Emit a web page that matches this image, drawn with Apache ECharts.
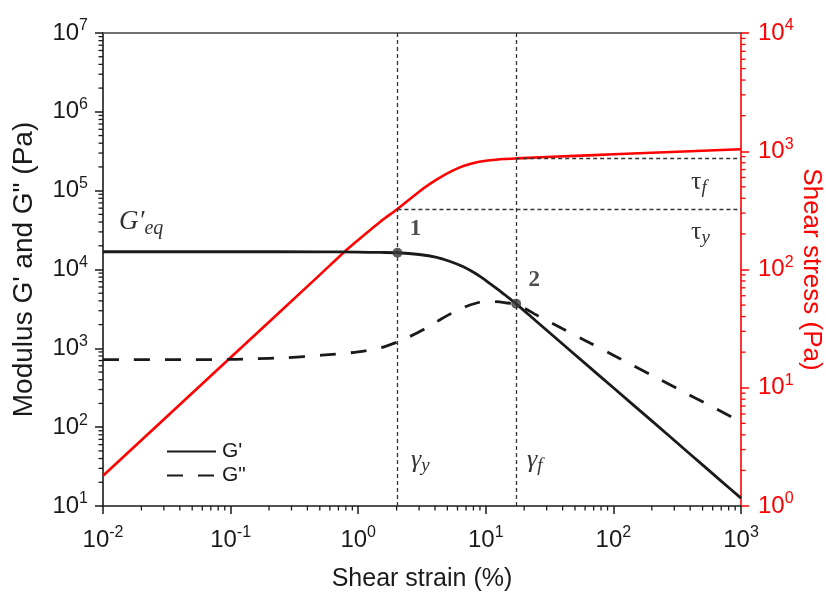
<!DOCTYPE html>
<html><head><meta charset="utf-8">
<script src="https://cdn.jsdelivr.net/npm/echarts@6/dist/echarts.min.js"></script>
<style>html,body{margin:0;padding:0;background:#fff}#c{width:826px;height:595px}</style>
</head><body><div id="c"></div>
<script>
// ---- data ----
const strainGp = [0.01, 0.1, 0.5, 1, 1.5, 2.03, 3, 4.12, 5.2, 6.67, 8.5, 10.2, 12.5, 14.6, 17.3, 25, 40, 60, 100, 200, 400, 700, 1000];
const Gp       = [16800, 16800, 16750, 16600, 16450, 16300, 15500, 14290, 12740, 10840, 8710, 7080, 5560, 4570, 3670, 2190, 1135, 644, 316, 120, 45.4, 20.7, 12.6];
const strainGpp = [0.01, 0.05, 0.1, 0.15, 0.27, 0.52, 1, 1.5, 2.03, 2.5, 3.28, 4.2, 5.46, 7, 8.5, 10.2, 12, 14, 17.3, 20.8, 25, 40, 60, 100, 200, 400, 700, 1000];
const Gpp       = [720, 720, 724, 738, 759, 820, 900, 1016, 1202, 1396, 1750, 2213, 2818, 3388, 3758, 3954, 3917, 3802, 3600, 3140, 2640, 1770, 1260, 817, 455, 253, 158, 117];
const strainTau = [0.01, 0.1, 0.5, 0.8, 1, 1.5, 2.03, 3, 3.65, 4.5, 5.5, 6.67, 8.5, 10.8, 14, 17.3, 27, 50, 100, 200, 500, 1000];
const tau       = [1.8, 18, 90, 145, 178, 255, 325, 455, 530, 610, 685, 750, 808, 840, 860, 870, 889, 914, 942, 970, 1010, 1040];
const yieldStrain = 2.03, flowStrain = 17.3;      // gamma_y, gamma_f (%)
const yieldStress = 325, flowStress = 870;        // tau_y, tau_f (Pa)
const markedPoints = [[2.03, 16300, '1'], [17.3, 3670, '2']];
const xRange = [0.01, 1000], yLeftRange = [10, 1e7], yRightRange = [1, 1e4];
const legendNames = ["G'", 'G"'];

// ---- chart ----
function minorValues(lo, hi) {
  const out = [];
  for (let e = Math.round(Math.log10(lo)); e < Math.round(Math.log10(hi)); e++)
    for (let k = 2; k <= 9; k++) out.push(k * Math.pow(10, e));
  return out;
}
const FONT = 'Liberation Sans, Arial, sans-serif';
const SERIF = 'Liberation Serif, Times New Roman, serif';
function powLabel(color, margin) {
  return {
    margin: margin,
    formatter: v => '{b|10}{s|' + Math.round(Math.log10(v)) + '}',
    rich: {
      b: { fontSize: 24, lineHeight: 30, fontFamily: FONT, color: color },
      s: { fontSize: 16, lineHeight: 16, fontFamily: FONT, color: color, verticalAlign: 'top' }
    }
  };
}
const black = '#1a1a1a', red = '#ff0000', refCol = '#333';
const zip = (a, b) => a.map((v, i) => [v, b[i]]);
const subText = (base, sub, italicBase) => ({
  text: '{g|' + base + '}{s|' + sub + '}',
  rich: {
    g: { fontSize: 26, lineHeight: 30, fontFamily: SERIF, fontStyle: italicBase ? 'italic' : 'normal', fill: '#333' },
    s: { fontSize: 19, lineHeight: 18, fontFamily: SERIF, fontStyle: 'italic', fill: '#333', verticalAlign: 'bottom' }
  }
});

const chart = echarts.init(document.getElementById('c'), null, { renderer: 'canvas' });
chart.setOption({
  animation: false,
  backgroundColor: '#fff',
  grid: { left: 103, right: 85, top: 33, bottom: 89, containLabel: false, outerBoundsMode: 'none' },
  legend: {
    data: legendNames, orient: 'vertical', left: 161, top: 436,
    itemWidth: 49, itemHeight: 14, itemGap: 3,
    itemStyle: { opacity: 0, borderWidth: 0 },
    textStyle: { fontSize: 21, fontFamily: FONT, color: black, padding: [0, 0, 0, 1] }
  },
  xAxis: [
    { type: 'log', logBase: 10, min: xRange[0], max: xRange[1], position: 'bottom',
      name: 'Shear strain (%)', nameLocation: 'middle', nameGap: 61, nameMoveOverlap: false,
      nameTextStyle: { fontSize: 25, fontFamily: FONT, color: black },
      axisLine: { lineStyle: { color: black, width: 1.6 } },
      axisTick: { length: 8, lineStyle: { color: black, width: 1.5 } },
      axisLabel: powLabel(black, 19), splitLine: { show: false } },
    { type: 'log', logBase: 10, min: xRange[0], max: xRange[1], position: 'top',
      axisLine: { lineStyle: { color: '#444', width: 1.6 } }, axisTick: { show: false },
      axisLabel: { show: false }, splitLine: { show: false } }
  ],
  yAxis: [
    { type: 'log', logBase: 10, min: yLeftRange[0], max: yLeftRange[1], position: 'left',
      name: "Modulus G' and G\" (Pa)", nameLocation: 'middle', nameGap: 65, nameRotate: 90, nameMoveOverlap: false,
      nameTextStyle: { fontSize: 28, fontFamily: FONT, color: black },
      axisLine: { lineStyle: { color: black, width: 1.6 } },
      axisTick: { length: 8, lineStyle: { color: black, width: 1.5 } },
      axisLabel: powLabel(black, 15), splitLine: { show: false } },
    { type: 'log', logBase: 10, min: yRightRange[0], max: yRightRange[1], position: 'right',
      name: 'Shear stress (Pa)', nameLocation: 'middle', nameGap: 57, nameRotate: -90, nameMoveOverlap: false,
      nameTextStyle: { fontSize: 26, fontFamily: FONT, color: red },
      axisLine: { lineStyle: { color: red, width: 1.6 } },
      axisTick: { length: 8, lineStyle: { color: red, width: 1.5 } },
      axisLabel: powLabel(red, 17), splitLine: { show: false } }
  ],
  series: [
    { name: "G'", type: 'line', data: zip(strainGp, Gp), symbol: 'none', smooth: 0.3,
      lineStyle: { color: black, width: 2.8 }, itemStyle: { color: black }, z: 4,
      markLine: { silent: true, symbol: 'none', label: { show: false },
        lineStyle: { color: refCol, width: 1.3, type: [4, 3] },
        data: [{ xAxis: yieldStrain }, { xAxis: flowStrain }] } },
    { name: 'G"', type: 'line', data: zip(strainGpp, Gpp), symbol: 'none', smooth: 0.3,
      lineStyle: { color: black, width: 2.8, type: [16, 15] }, itemStyle: { color: black }, z: 4 },
    { name: 'stress', type: 'line', yAxisIndex: 1, data: zip(strainTau, tau), symbol: 'none', smooth: 0.2,
      lineStyle: { color: red, width: 2.6 }, itemStyle: { color: red }, z: 3,
      markLine: { silent: true, symbol: 'none', label: { show: false },
        lineStyle: { color: refCol, width: 1.3, type: [4, 3] },
        data: [
          [{ coord: [yieldStrain, yieldStress] }, { coord: [xRange[1], yieldStress] }],
          [{ coord: [flowStrain, flowStress] }, { coord: [xRange[1], flowStress] }]
        ] } },
    { name: 'points', type: 'scatter', data: markedPoints.map(p => ({ value: [p[0], p[1]], label: { formatter: p[2] } })),
      symbol: 'circle', symbolSize: 10, itemStyle: { color: '#3a3a3a' }, z: 6,
      label: { show: true, position: 'inside', offset: [18, -24], fontSize: 23, fontWeight: 'bold',
        fontFamily: SERIF, color: '#222' } },
    { type: 'custom', xAxisIndex: 0, yAxisIndex: 0, silent: true, z: 5,
      data: minorValues(xRange[0], xRange[1]).map(v => [v, yLeftRange[0]]),
      renderItem: (p, api) => { const pt = api.coord([api.value(0), api.value(1)]);
        return { type: 'line', shape: { x1: pt[0], y1: pt[1], x2: pt[0], y2: pt[1] + 4.5 }, style: { stroke: black, lineWidth: 1.3 } }; } },
    { type: 'custom', xAxisIndex: 0, yAxisIndex: 0, silent: true, z: 5,
      data: minorValues(yLeftRange[0], yLeftRange[1]).map(v => [xRange[0], v]),
      renderItem: (p, api) => { const pt = api.coord([api.value(0), api.value(1)]);
        return { type: 'line', shape: { x1: pt[0] - 4.5, y1: pt[1], x2: pt[0], y2: pt[1] }, style: { stroke: black, lineWidth: 1.3 } }; } },
    { type: 'custom', xAxisIndex: 0, yAxisIndex: 1, silent: true, z: 5,
      data: minorValues(yRightRange[0], yRightRange[1]).map(v => [xRange[1], v]),
      renderItem: (p, api) => { const pt = api.coord([api.value(0), api.value(1)]);
        return { type: 'line', shape: { x1: pt[0], y1: pt[1], x2: pt[0] + 4.5, y2: pt[1] }, style: { stroke: red, lineWidth: 1.3 } }; } }
  ],
  graphic: [
    { type: 'text', left: 119, top: 208, z: 10, style: {
        text: '{g|G′}{s|eq}', rich: {
        g: { fontSize: 27, lineHeight: 34, fontFamily: SERIF, fontStyle: 'italic', fill: '#333' },
        s: { fontSize: 20, lineHeight: 20, fontFamily: SERIF, fontStyle: 'italic', fill: '#333', verticalAlign: 'bottom' } } } },
    { type: 'text', left: 691, top: 169, z: 10, style: subText('τ', 'f', false) },
    { type: 'text', left: 691, top: 219, z: 10, style: subText('τ', 'y', false) },
    { type: 'text', left: 411, top: 447, z: 10, style: subText('γ', 'y', true) },
    { type: 'text', left: 527, top: 447, z: 10, style: subText('γ', 'f', true) }
  ]
});
</script>
</body></html>
